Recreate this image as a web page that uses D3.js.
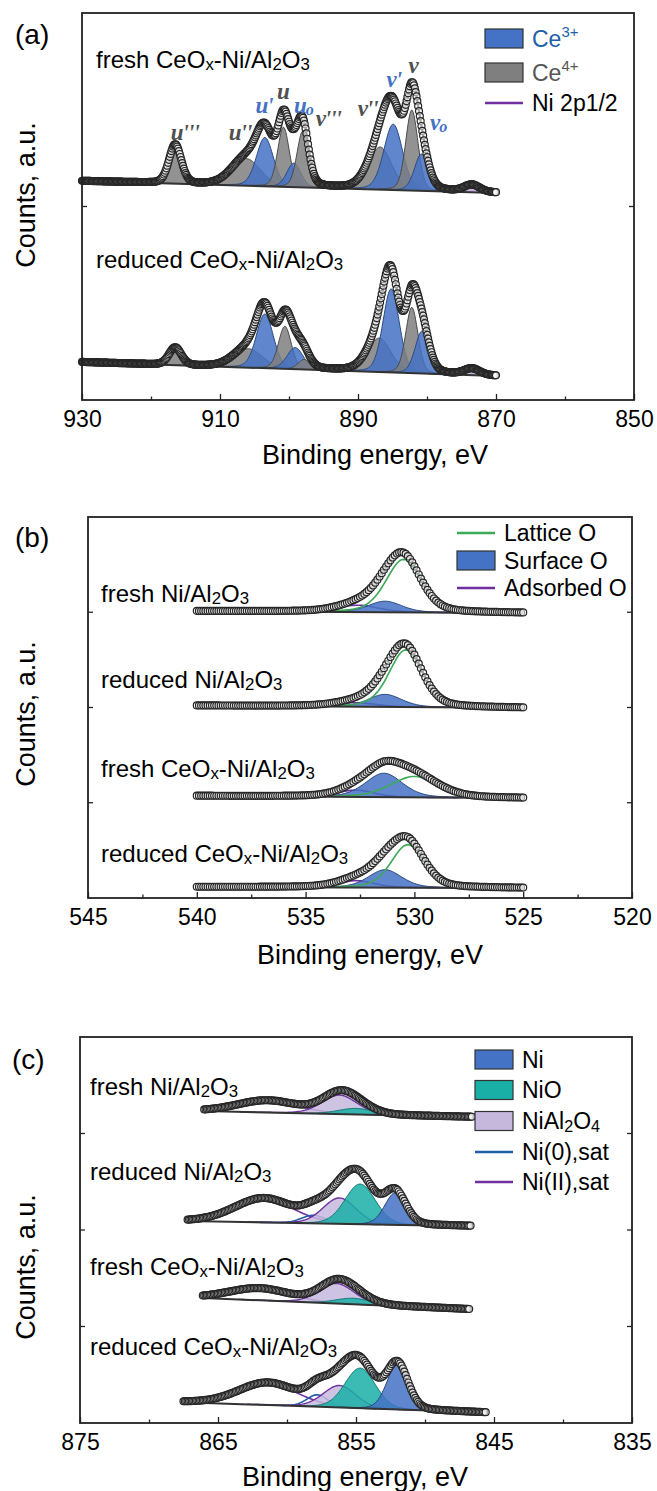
<!DOCTYPE html>
<html>
<head>
<meta charset="utf-8">
<script src="https://cdn.jsdelivr.net/npm/d3@7"></script>
<style>
  body { margin: 0; background: #fff; }
  svg { display: block; }
  text { font-family: "Liberation Sans", Arial, sans-serif; }
</style>
</head>
<body>
<svg id="chart" width="657" height="1491"></svg>
<script>
// ---------- data (a) Ce 3d ----------
// peaks: [name, component, centre eV, height a.u., fwhm eV]
const ceRange = [930, 870];
const ceMajor = [930, 910, 890, 870, 850];
const ceMinor = [920, 900, 880, 860];
const ceFreshBg = [56.6, 53.5];
const ceFreshPeaks = [
  ["u'''", "Ce4", 916.5, 10.0, 2.1],
  ["u''", "Ce4", 906.2, 7.0, 4.9],
  ["u'", "Ce3", 903.5, 12.6, 2.9],
  ["u", "Ce4", 900.8, 15.4, 2.0],
  ["u0", "Ce3", 899.3, 6.2, 2.4],
  ["v'''", "Ce4", 898.0, 14.5, 2.0],
  ["v''", "Ce4", 886.8, 11.0, 4.0],
  ["v'", "Ce3", 884.9, 17.0, 3.2],
  ["v", "Ce4", 882.2, 20.8, 2.1],
  ["v0", "Ce3", 880.8, 9.5, 2.4],
  ["Ni", "Ni", 873.5, 1.8, 2.6]
];
const ceReducedBg = [9.8, 6.2];
const ceReducedPeaks = [
  ["u'''", "Ce4", 916.5, 4.5, 2.1],
  ["u''", "Ce4", 905.9, 4.9, 4.9],
  ["u'", "Ce3", 903.5, 14.0, 2.9],
  ["u", "Ce4", 900.6, 11.0, 2.2],
  ["u0", "Ce3", 899.1, 5.6, 2.8],
  ["v'''", "Ce4", 897.8, 2.6, 2.1],
  ["v''", "Ce4", 886.9, 8.8, 4.0],
  ["v'", "Ce3", 885.2, 21.6, 2.8],
  ["v", "Ce4", 882.2, 17.0, 2.1],
  ["v0", "Ce3", 880.7, 11.0, 2.4],
  ["Ni", "Ni", 873.5, 1.6, 2.6]
];
// peak labels: [text, colour group, eV, a.u.]
const ceLabels = [
  ["u'''", "Ce4", 915.1, 67.2],
  ["u''", "Ce4", 907.1, 67.2],
  ["u'", "Ce3", 903.6, 74.2],
  ["u", "Ce4", 900.9, 77.7],
  ["u_o", "Ce3", 897.9, 74.2],
  ["v'''", "Ce4", 894.3, 70.8],
  ["v''", "Ce4", 888.6, 73.4],
  ["v'", "Ce3", 884.8, 80.9],
  ["v", "Ce4", 882.0, 84.5],
  ["v_o", "Ce3", 878.4, 69.8]
];

// ---------- data (b) O 1s ----------
const oRange = [540, 525];
const oMajor = [545, 540, 535, 530, 525, 520];
const oMinor = [542.5, 537.5, 532.5, 527.5, 522.5];
const oFreshNiBg = [75.3, 74.8];
const oFreshNiPeaks = [["Adsorbed O", "ads", 532.6, 1.8, 2.2], ["Surface O", "surf", 531.35, 2.9, 1.8], ["Lattice O", "lat", 530.5, 13.9, 1.9]];
const oRedNiBg = [50.5, 49.9];
const oRedNiPeaks = [["Adsorbed O", "ads", 532.7, 1.05, 2.2], ["Surface O", "surf", 531.35, 3.3, 1.8], ["Lattice O", "lat", 530.4, 15.0, 1.8]];
const oFreshCeBg = [26.8, 26.2];
const oFreshCePeaks = [["Adsorbed O", "ads", 532.7, 1.8, 2.0], ["Surface O", "surf", 531.4, 6.3, 2.0], ["Lattice O", "lat", 530.0, 5.5, 2.6]];
const oRedCeBg = [2.9, 2.6];
const oRedCePeaks = [["Adsorbed O", "ads", 532.7, 1.8, 2.0], ["Surface O", "surf", 531.35, 4.7, 1.8], ["Lattice O", "lat", 530.3, 11.3, 1.8]];

// ---------- data (c) Ni 2p3/2 ----------
const niMajor = [875, 865, 855, 845, 835];
const niMinor = [870, 860, 850, 840];
const niFreshNiRange = [866.0, 846.6];
const niFreshNiBg = [80.8, 79.3];
const niFreshNiPeaks = [["Ni(II),sat", "sat2", 861.4, 3.1, 5.2], ["NiAl2O4", "spinel", 856.2, 4.9, 3.0], ["NiO", "nio", 855.0, 1.55, 3.0]];
const niRedNiRange = [867.2, 846.7];
const niRedNiBg = [52.3, 51.0];
const niRedNiPeaks = [["Ni(II),sat", "sat2", 861.7, 6.2, 5.0], ["Ni(0),sat", "sat0", 858.1, 2.1, 2.0], ["NiAl2O4", "spinel", 856.2, 6.7, 2.8], ["NiO", "nio", 854.7, 10.4, 2.6], ["Ni", "ni", 852.15, 8.3, 1.8]];
const niFreshCeRange = [866.1, 846.8];
const niFreshCeBg = [32.4, 29.5];
const niFreshCePeaks = [["Ni(II),sat", "sat2", 862.0, 3.1, 5.2], ["NiAl2O4", "spinel", 856.4, 5.2, 3.0], ["NiO", "nio", 855.2, 1.55, 3.0]];
const niRedCeRange = [867.5, 845.6];
const niRedCeBg = [5.4, 2.7];
const niRedCePeaks = [["Ni(II),sat", "sat2", 861.4, 5.7, 5.0], ["Ni(0),sat", "sat0", 857.8, 3.1, 1.8], ["NiAl2O4", "spinel", 856.2, 5.7, 2.8], ["NiO", "nio", 854.7, 10.4, 2.6], ["Ni", "ni", 852.0, 11.7, 1.8]];

const sampleNames = ["fresh Ni/Al_2O_3", "reduced Ni/Al_2O_3", "fresh CeO_x-Ni/Al_2O_3", "reduced CeO_x-Ni/Al_2O_3"];

// ---------- helpers ----------
const svg = d3.select('#chart');

function parseRich(str) {
  let parts = [], buf = '';
  for (let i = 0; i < str.length; i++) {
    let ch = str[i];
    if (ch === '_') {
      if (buf) parts.push([buf, '']);
      buf = '';
      parts.push([str[i + 1], 'sub']);
      i++;
    } else if (ch === '^' && str[i + 1] === '{') {
      if (buf) parts.push([buf, '']);
      buf = '';
      let j = str.indexOf('}', i);
      parts.push([str.slice(i + 2, j), 'sup']);
      i = j;
    } else buf += ch;
  }
  if (buf) parts.push([buf, '']);
  return parts;
}

function richText(g, x, y, str, size, opts = {}) {
  let t = g.append('text').attr('x', x).attr('y', y).attr('font-size', size)
    .attr('fill', opts.fill || '#000').attr('text-anchor', opts.anchor || 'start');
  if (opts.family) t.style('font-family', opts.family);
  if (opts.weight) t.attr('font-weight', opts.weight);
  if (opts.italic) t.attr('font-style', 'italic');
  if (opts.spacing) t.attr('letter-spacing', opts.spacing);
  let shift = 0;
  parseRich(str).forEach(([s, k]) => {
    let want = k === 'sub' ? size * 0.1 : k === 'sup' ? -size * 0.42 : 0;
    let sp = t.append('tspan').attr('dy', want - shift).text(s);
    if (k) sp.attr('font-size', size * (k === 'sub' ? 0.7 : 0.65));
    shift = want;
  });
  return t;
}

function drawPanel(p) {
  const g = svg.append('g');
  const [L, T, R, B] = p.box;
  const x = d3.scaleLinear().domain(p.xDomain).range([L, R]);
  const y = d3.scaleLinear().domain([0, 100]).range([B, T]);

  p.spectra.forEach(s => {
    const bg = e => s.bg[0] + (s.bg[1] - s.bg[0]) * (e - s.range[0]) / (s.range[1] - s.range[0]);
    const comp = (e, pk) => {
      let d = (e - pk[2]) / pk[4];
      return pk[3] * ((1 - p.eta) * Math.exp(-4 * Math.LN2 * d * d) + p.eta / (1 + 4 * d * d));
    };
    const total = e => bg(e) + d3.sum(s.peaks, pk => comp(e, pk));
    const energies = d3.range(s.range[0], s.range[1] - 1e-6, -p.step);

    s.peaks.forEach(pk => {
      let st = p.styles[pk[1]];
      let es = energies.filter(e => Math.abs(e - pk[2]) < 2.4 * pk[4]);
      if (st.fill) {
        g.append('path').datum(es)
          .attr('d', d3.area().x(e => x(e)).y0(e => y(bg(e))).y1(e => y(bg(e) + comp(e, pk))))
          .attr('fill', st.fill).attr('fill-opacity', st.opacity || 0.85);
      }
      g.append('path').datum(es)
        .attr('d', d3.line().x(e => x(e)).y(e => y(bg(e) + comp(e, pk))))
        .attr('fill', 'none').attr('stroke', st.stroke).attr('stroke-width', st.width || 1);
    });

    g.append('line')
      .attr('x1', x(s.range[0])).attr('x2', x(s.range[1]))
      .attr('y1', y(s.bg[0])).attr('y2', y(s.bg[1]))
      .attr('stroke', '#333').attr('stroke-width', 2);

    // fitted envelope under the measured points
    g.append('path').datum(energies)
      .attr('d', d3.line().x(e => x(e)).y(e => y(total(e))))
      .attr('fill', 'none').attr('stroke', '#3a3a3a').attr('stroke-width', 2.2);

    g.append('g').selectAll('circle').data(energies).join('circle')
      .attr('cx', e => x(e)).attr('cy', e => y(total(e)))
      .attr('r', 3.5).attr('fill', '#fff').attr('fill-opacity', 0.55)
      .attr('stroke', '#262626').attr('stroke-width', 1.2);

    richText(g, s.label[1], s.label[2], s.label[0], 24);
  });

  // axes
  const major = d3.axisBottom(x).tickValues(p.major).tickSize(-6).tickPadding(11).tickFormat(d3.format('d'));
  const minor = d3.axisBottom(x).tickValues(p.minor).tickSize(-3.5).tickFormat('');
  const ax = g.append('g').attr('transform', `translate(0,${B})`).call(major);
  g.append('g').attr('transform', `translate(0,${B})`).call(minor);
  g.selectAll('.domain').remove();
  g.selectAll('.tick line').attr('stroke', '#222').attr('stroke-width', 1.3);
  ax.selectAll('.tick text').attr('font-size', 23).attr('fill', '#000')
    .style('font-family', '"Liberation Sans", Arial, sans-serif');

  p.yTicks.forEach(f => {
    let yy = B - f * (B - T);
    g.append('line').attr('x1', L).attr('x2', L + 5).attr('y1', yy).attr('y2', yy).attr('stroke', '#222').attr('stroke-width', 1.3);
    g.append('line').attr('x1', R).attr('x2', R - 5).attr('y1', yy).attr('y2', yy).attr('stroke', '#222').attr('stroke-width', 1.3);
  });

  g.append('rect').attr('x', L).attr('y', T).attr('width', R - L).attr('height', B - T)
    .attr('fill', 'none').attr('stroke', '#222').attr('stroke-width', 1.8);

  g.append('text').attr('x', p.xTitle[0]).attr('y', p.xTitle[1]).attr('text-anchor', 'middle')
    .attr('font-size', 27).text('Binding energy, eV');
  g.append('text').attr('transform', `translate(35,${p.yTitleY}) rotate(-90)`).attr('text-anchor', 'middle')
    .attr('font-size', 27).text('Counts, a.u.');
  g.append('text').attr('x', p.letter[1]).attr('y', p.letter[2]).attr('font-size', 28).text(p.letter[0]);

  // legend
  p.legend.forEach(it => {
    if (it.box) {
      g.append('rect').attr('x', it.x).attr('y', it.y - 9.5).attr('width', 38).attr('height', 19)
        .attr('fill', it.box).attr('stroke', '#333').attr('stroke-width', 1.2);
    } else {
      g.append('line').attr('x1', it.x).attr('x2', it.x + 38).attr('y1', it.y).attr('y2', it.y)
        .attr('stroke', it.line).attr('stroke-width', 2.5);
    }
    richText(g, it.x + 47, it.y + 8.3, it.text, 23, { fill: it.color || '#000' });
  });

  return { g, x, y };
}

// ---------- panel (a) ----------
const ceStyles = {
  Ce3: { fill: '#4472C4', stroke: '#2B4A80', width: 1 },
  Ce4: { fill: '#7F7F7F', stroke: '#4A4A4A', width: 1 },
  Ni: { fill: '#9d7cc0', stroke: '#7030A0', width: 1.5, opacity: 0.6 }
};
const pa = drawPanel({
  box: [82, 13, 634, 400], xDomain: [930, 850], major: ceMajor, minor: ceMinor,
  yTicks: [0.5], eta: 0.2, step: 0.12, styles: ceStyles,
  spectra: [
    { range: ceRange, bg: ceFreshBg, peaks: ceFreshPeaks, label: ['fresh CeO_x-Ni/Al_2O_3', 96, 68] },
    { range: ceRange, bg: ceReducedBg, peaks: ceReducedPeaks, label: ['reduced CeO_x-Ni/Al_2O_3', 96, 268] }
  ],
  xTitle: [375, 464], yTitleY: 195, letter: ['(a)', 15, 44],
  legend: [
    { x: 485, y: 38.5, box: '#4472C4', text: 'Ce^{3+}', color: '#1F5FA8' },
    { x: 485, y: 72.5, box: '#7F7F7F', text: 'Ce^{4+}', color: '#555' },
    { x: 485, y: 103, line: '#7030A0', text: 'Ni 2p1/2' }
  ]
});
ceLabels.forEach(l => {
  richText(pa.g, pa.x(l[2]), pa.y(l[3]), l[0], 23, {
    anchor: 'middle', fill: l[1] === 'Ce3' ? '#4472C4' : '#505050',
    family: '"Liberation Serif", "Times New Roman", serif', weight: 'bold', italic: true, spacing: -1
  });
});

// ---------- panel (b) ----------
const oStyles = {
  lat: { stroke: '#3DAA5A', width: 1.6 },
  surf: { fill: '#4472C4', stroke: '#2B4A80', width: 1 },
  ads: { stroke: '#7030A0', width: 1.6 }
};
drawPanel({
  box: [88, 517, 632, 898], xDomain: [545, 520], major: oMajor, minor: oMinor,
  yTicks: [0.25, 0.5, 0.75], eta: 0.3, step: 0.1, styles: oStyles,
  spectra: [
    { range: oRange, bg: oFreshNiBg, peaks: oFreshNiPeaks, label: [sampleNames[0], 101, 602] },
    { range: oRange, bg: oRedNiBg, peaks: oRedNiPeaks, label: [sampleNames[1], 101, 688] },
    { range: oRange, bg: oFreshCeBg, peaks: oFreshCePeaks, label: [sampleNames[2], 101, 777] },
    { range: oRange, bg: oRedCeBg, peaks: oRedCePeaks, label: [sampleNames[3], 101, 862] }
  ],
  xTitle: [370, 964], yTitleY: 714, letter: ['(b)', 15, 547],
  legend: [
    { x: 457, y: 533, line: '#3DAA5A', text: 'Lattice O' },
    { x: 457, y: 560.5, box: '#4472C4', text: 'Surface O' },
    { x: 457, y: 588, line: '#7030A0', text: 'Adsorbed O' }
  ]
});

// ---------- panel (c) ----------
const niStyles = {
  ni: { fill: '#4472C4', stroke: '#24437A', width: 1 },
  nio: { fill: '#19AFA6', stroke: '#137A73', width: 1 },
  spinel: { fill: '#C6B8DD', stroke: '#7030A0', width: 1.4 },
  sat0: { stroke: '#1F5FA8', width: 1.6 },
  sat2: { stroke: '#7030A0', width: 1.6 }
};
drawPanel({
  box: [80, 1037, 632, 1423], xDomain: [875, 835], major: niMajor, minor: niMinor,
  yTicks: [0.25, 0.5, 0.75], eta: 0.15, step: 0.1, styles: niStyles,
  spectra: [
    { range: niFreshNiRange, bg: niFreshNiBg, peaks: niFreshNiPeaks, label: [sampleNames[0], 90, 1095] },
    { range: niRedNiRange, bg: niRedNiBg, peaks: niRedNiPeaks, label: [sampleNames[1], 90, 1180] },
    { range: niFreshCeRange, bg: niFreshCeBg, peaks: niFreshCePeaks, label: [sampleNames[2], 90, 1275] },
    { range: niRedCeRange, bg: niRedCeBg, peaks: niRedCePeaks, label: [sampleNames[3], 90, 1355] }
  ],
  xTitle: [355, 1486], yTitleY: 1267, letter: ['(c)', 12, 1069],
  legend: [
    { x: 475, y: 1059.5, box: '#4472C4', text: 'Ni' },
    { x: 475, y: 1090, box: '#19AFA6', text: 'NiO' },
    { x: 475, y: 1121, box: '#C6B8DD', text: 'NiAl_2O_4' },
    { x: 475, y: 1152, line: '#1F5FA8', text: 'Ni(0),sat' },
    { x: 475, y: 1182, line: '#7030A0', text: 'Ni(II),sat' }
  ]
});
</script>
</body>
</html>
